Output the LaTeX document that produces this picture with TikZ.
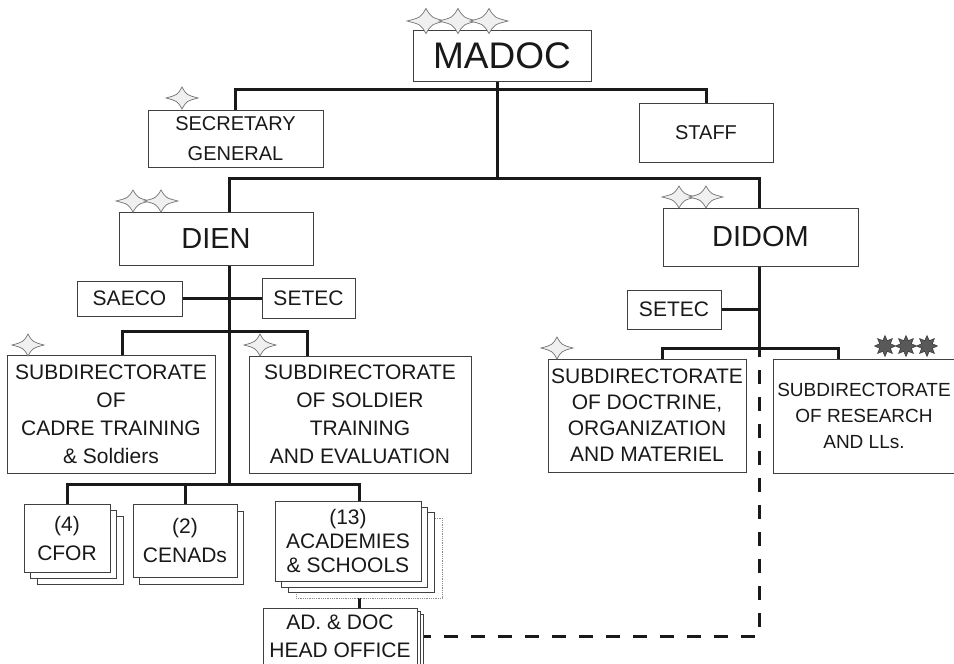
\documentclass[tikz,border=0pt]{standalone}
\usepackage{fontspec}
\setmainfont{Liberation Sans}
\usetikzlibrary{shadows,shapes.geometric,backgrounds}

\tikzset{
  box/.style={draw=black!75, line width=0.8pt, fill=white, text=black!90,
    align=center, inner sep=0pt, font=\fontsize{20}{28}\selectfont},
  subbox/.style={box, font=\fontsize{21}{28}\selectfont},
  link/.style={line width=3pt, draw=black!90},
  dashlink/.style={link, dash pattern=on 14pt off 13pt},
  sparkline/.style={draw=black!55, fill=black!6, line width=0.7pt},
  rankstar/.style={star, star points=8, star point ratio=1.8, minimum size=21pt,
    inner sep=0pt, fill=black!65, draw=black!80, line width=0.5pt},
  every shadow/.style={draw=black!75, fill=white, line width=0.8pt},
}

% four-pointed star: centre, half width, half height
\newcommand\spark[3]{%
  \begin{scope}[shift={(#1)}, x=#2pt, y=#3pt]
    \filldraw[sparkline] (1,0) .. controls (0.28,0.28) .. (0,1)
      .. controls (-0.28,0.28) .. (-1,0) .. controls (-0.28,-0.28) .. (0,-1)
      .. controls (0.28,-0.28) .. (1,0) -- cycle;
  \end{scope}}

\begin{document}
\begin{tikzpicture}[x=1pt, y=-1pt]
\useasboundingbox (0,0) rectangle (954,664);

% command
\node[box, minimum width=178pt, minimum height=51pt, font=\fontsize{37}{40}\selectfont] (madoc) at (502,55.5) {MADOC};
\node[box, minimum width=175pt, minimum height=57pt, font=\fontsize{20}{30}\selectfont] (secgen) at (235.5,138.5) {SECRETARY\\GENERAL};
\node[box, minimum width=134pt, minimum height=59pt] (staff) at (706,132.5) {STAFF};

% directorates
\node[box, minimum width=194pt, minimum height=53pt, font=\fontsize{29}{32}\selectfont] (dien) at (216,238.5) {DIEN};
\node[box, minimum width=195pt, minimum height=58pt, font=\fontsize{29}{32}\selectfont] (didom) at (760.5,237) {DIDOM};
\node[subbox, minimum width=105pt, minimum height=35pt] (saeco) at (129.5,298.5) {SAECO};
\node[subbox, minimum width=93pt, minimum height=40pt] (setecA) at (308.5,298) {SETEC};
\node[subbox, minimum width=94pt, minimum height=39pt] (setecB) at (674,309.5) {SETEC};

% subdirectorates
\node[subbox, minimum width=208pt, minimum height=118pt] (cadre) at (111,414) {SUBDIRECTORATE\\OF\\CADRE TRAINING\\\& Soldiers};
\node[subbox, minimum width=222pt, minimum height=117pt] (soldier) at (360,414.5) {SUBDIRECTORATE\\OF SOLDIER\\TRAINING\\AND EVALUATION};
\node[subbox, minimum width=198pt, minimum height=113pt, font=\fontsize{21}{26}\selectfont] (doctrine) at (647,415.5) {SUBDIRECTORATE\\OF DOCTRINE,\\ORGANIZATION\\AND MATERIEL};
\node[box, minimum width=182pt, minimum height=114pt, font=\fontsize{19}{26}\selectfont] (research) at (864,416) {SUBDIRECTORATE\\OF RESEARCH\\AND LLs.};

% centres
\node[box, minimum width=86pt, minimum height=68pt, font=\fontsize{21}{29}\selectfont,
  copy shadow={shadow xshift=13pt, shadow yshift=-12pt},
  copy shadow={shadow xshift=6pt, shadow yshift=-6pt}] (cfor) at (67,538) {(4)\\CFOR};
\node[box, minimum width=104pt, minimum height=73pt, font=\fontsize{21}{29}\selectfont,
  copy shadow={shadow xshift=6pt, shadow yshift=-7pt}] (cenads) at (185,540.5) {(2)\\CENADs};
\node[box, minimum width=146pt, minimum height=80pt, font=\fontsize{21}{24}\selectfont,
  copy shadow={shadow xshift=21pt, shadow yshift=-17pt, draw=black!45, densely dotted},
  copy shadow={shadow xshift=13pt, shadow yshift=-11pt},
  copy shadow={shadow xshift=6pt, shadow yshift=-6pt}] (academies) at (348,541) {(13)\\ACADEMIES\\\& SCHOOLS};
\node[box, minimum width=154pt, minimum height=56pt, font=\fontsize{21}{28}\selectfont,
  copy shadow={shadow xshift=6pt, shadow yshift=-6pt},
  copy shadow={shadow xshift=3pt, shadow yshift=-3pt}] (headoff) at (340,636) {AD. \& DOC\\HEAD OFFICE};

% connectors
\begin{scope}[on background layer]
\coordinate (topbar) at (497,89);
\coordinate (midbar) at (497,178);
\coordinate (dienx) at (229,178);
\coordinate (didomx) at (759,178);
\coordinate (dsub) at (229,331);
\coordinate (dbase) at (229,484);
\coordinate (msub) at (759,348);

\draw[link] (secgen.north) |- (topbar) -| (staff.north);
\draw[link] (madoc.south -| topbar) -- (midbar);
\draw[link] (dien.north -| dienx) |- (midbar) -| (didom.north -| didomx);

\draw[link] (dien.south -| dienx) -- (dbase);
\draw[link] (saeco.east) -- (saeco.east -| setecA.west);
\draw[link] ([xshift=11pt]cadre.north) |- (dsub) -| ([xshift=-53pt]soldier.north);
\draw[link] (cfor.north) |- (dbase) -| ([xshift=11pt]academies.north);
\draw[link] (cenads.north) -- (cenads.north |- dbase);
\draw[link] ([xshift=11pt]academies.south) -- ([xshift=11pt]academies.south |- headoff.north);

\draw[link] (didom.south -| didomx) -- (msub);
\draw[link] (setecB.east) -- (setecB.east -| msub);
\draw[link] ([xshift=15pt]doctrine.north) |- (msub) -| ([xshift=-26pt]research.north);
\draw[dashlink] (headoff.east) -| (msub);
\end{scope}

% rank insignia
\spark{426,21}{19}{12.5}
\spark{458,21}{19}{12.5}
\spark{489,21}{19}{12.5}
\spark{182,98}{16}{11}
\spark{133,201}{17}{11}
\spark{161,201}{17}{11}
\spark{679,197}{17}{11}
\spark{706,197}{17}{11}
\spark{28,345}{16}{11}
\spark{260,345}{16}{11}
\spark{557,348}{16}{11}
\foreach \i/\sx in {1/885,2/906,3/927}
  \node[rankstar] (rank\i) at (\sx,346) {};
\end{tikzpicture}
\end{document}
